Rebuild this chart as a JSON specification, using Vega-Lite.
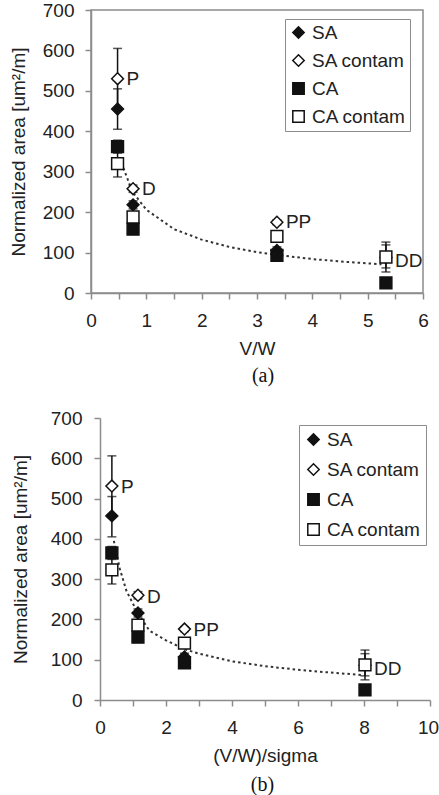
{
  "$schema": "https://vega.github.io/schema/vega-lite/v6.json",
  "background": "white",
  "padding": {"left": 8, "top": 0, "right": 0, "bottom": 5},
  "spacing": 22,
  "config": {
    "font": "Liberation Sans",
    "view": {"stroke": "#8c8c8c", "strokeWidth": 1.5},
    "axis": {"domainColor": "#8c8c8c", "domainWidth": 1.5, "tickColor": "#8c8c8c", "tickWidth": 1.5, "tickSize": 6, "grid": false,
      "labelFont": "Liberation Sans", "titleFont": "Liberation Sans", "labelFontSize": 19, "titleFontSize": 19,
      "titleFontWeight": "normal", "labelColor": "#222", "titleColor": "#222"},
    "legend": {"labelFont": "Liberation Sans", "labelFontSize": 19, "labelColor": "#222"}
  },
  "datasets": {
    "pts_a": [
      {"x": 0.48, "y": 455, "s": "SA", "lo": 405, "hi": 505},
      {"x": 0.48, "y": 530, "s": "SA contam", "lo": 455, "hi": 605},
      {"x": 0.48, "y": 362, "s": "CA", "lo": 346, "hi": 378},
      {"x": 0.48, "y": 320, "s": "CA contam", "lo": 287, "hi": 352},
      {"x": 0.76, "y": 218, "s": "SA", "lo": 208, "hi": 228},
      {"x": 0.76, "y": 258, "s": "SA contam", "lo": 249, "hi": 267},
      {"x": 0.76, "y": 158, "s": "CA", "lo": 145, "hi": 170},
      {"x": 0.76, "y": 188, "s": "CA contam", "lo": 178, "hi": 198},
      {"x": 3.36, "y": 105, "s": "SA", "lo": 96, "hi": 114},
      {"x": 3.36, "y": 175, "s": "SA contam", "lo": 169, "hi": 181},
      {"x": 3.36, "y": 93, "s": "CA", "lo": 87, "hi": 99},
      {"x": 3.36, "y": 140, "s": "CA contam", "lo": 134, "hi": 146},
      {"x": 5.33, "y": 88, "s": "SA contam", "lo": 52, "hi": 126},
      {"x": 5.33, "y": 25, "s": "CA", "lo": null, "hi": null},
      {"x": 5.33, "y": 89, "s": "CA contam", "lo": 62, "hi": 119}
    ],
    "pts_b": [
      {"x": 0.36, "y": 457, "s": "SA", "lo": 405, "hi": 505},
      {"x": 0.36, "y": 531, "s": "SA contam", "lo": 456, "hi": 606},
      {"x": 0.36, "y": 365, "s": "CA", "lo": 349, "hi": 381},
      {"x": 0.36, "y": 323, "s": "CA contam", "lo": 288, "hi": 355},
      {"x": 1.15, "y": 216, "s": "SA", "lo": 206, "hi": 226},
      {"x": 1.15, "y": 260, "s": "SA contam", "lo": 251, "hi": 269},
      {"x": 1.15, "y": 156, "s": "CA", "lo": 143, "hi": 168},
      {"x": 1.15, "y": 186, "s": "CA contam", "lo": 176, "hi": 196},
      {"x": 2.56, "y": 107, "s": "SA", "lo": 98, "hi": 116},
      {"x": 2.56, "y": 176, "s": "SA contam", "lo": 170, "hi": 182},
      {"x": 2.56, "y": 92, "s": "CA", "lo": 86, "hi": 98},
      {"x": 2.56, "y": 141, "s": "CA contam", "lo": 135, "hi": 147},
      {"x": 8.03, "y": 86, "s": "SA contam", "lo": 50, "hi": 124},
      {"x": 8.03, "y": 25, "s": "CA", "lo": null, "hi": null},
      {"x": 8.03, "y": 87, "s": "CA contam", "lo": 60, "hi": 115}
    ],
    "fit_a": [
      {"x": 0.55, "y": 322}, {"x": 0.75, "y": 250}, {"x": 1.0, "y": 206}, {"x": 1.5, "y": 158},
      {"x": 2.0, "y": 132}, {"x": 2.5, "y": 114}, {"x": 3.0, "y": 101}, {"x": 3.5, "y": 92},
      {"x": 4.0, "y": 84}, {"x": 4.5, "y": 78}, {"x": 5.25, "y": 71}
    ],
    "fit_b": [
      {"x": 0.42, "y": 395}, {"x": 0.6, "y": 326}, {"x": 0.8, "y": 271}, {"x": 1.15, "y": 215},
      {"x": 1.5, "y": 172}, {"x": 2.0, "y": 148}, {"x": 2.57, "y": 126}, {"x": 3.0, "y": 115},
      {"x": 4.0, "y": 96}, {"x": 5.0, "y": 84}, {"x": 6.0, "y": 75}, {"x": 7.0, "y": 68}, {"x": 7.95, "y": 62}
    ],
    "lab_a": [
      {"x": 0.48, "y": 530, "t": "P"}, {"x": 0.76, "y": 258, "t": "D"},
      {"x": 3.36, "y": 175, "t": "PP"}, {"x": 5.33, "y": 78, "t": "DD"}
    ],
    "lab_b": [
      {"x": 0.36, "y": 529, "t": "P"}, {"x": 1.15, "y": 255, "t": "D"},
      {"x": 2.56, "y": 174, "t": "PP"}, {"x": 8.03, "y": 77, "t": "DD"}
    ]
  },
  "vconcat": [
    {
      "width": 332, "height": 283,
      "title": {"text": "(a)", "orient": "bottom", "font": "Liberation Serif", "fontSize": 20, "fontWeight": "normal", "color": "#111", "anchor": "middle", "frame": "group", "offset": 8, "dx": 6},
      "encoding": {
        "x": {"field": "x", "type": "quantitative", "scale": {"domain": [0, 6], "nice": false},
          "axis": {"title": "V/W", "values": [0, 0.5, 1, 1.5, 2, 2.5, 3, 3.5, 4, 4.5, 5, 5.5, 6], "labelExpr": "datum.value % 1 === 0 ? format(datum.value, 'd') : ''", "labelPadding": 12, "titlePadding": 9, "labelFlush": false}},
        "y": {"field": "y", "type": "quantitative", "scale": {"domain": [0, 700], "nice": false},
          "axis": {"title": "Normalized area [um²/m]", "values": [0, 100, 200, 300, 400, 500, 600, 700], "labelPadding": 11, "titlePadding": 14, "labelFlush": false}}
      },
      "layer": [
        {"data": {"name": "fit_a"}, "mark": {"type": "line", "strokeDash": [2.5, 3], "strokeWidth": 2, "color": "#333"}},
        {"data": {"name": "pts_a"}, "transform": [{"filter": "isValid(datum.lo)"}],
          "mark": {"type": "rule", "color": "#111", "strokeWidth": 1.5},
          "encoding": {"y": {"field": "lo", "type": "quantitative"}, "y2": {"field": "hi"}}},
        {"data": {"name": "pts_a"}, "transform": [{"filter": "isValid(datum.lo)"}, {"fold": ["lo", "hi"], "as": ["k", "v"]}],
          "mark": {"type": "tick", "orient": "horizontal", "color": "#111", "thickness": 1.5, "size": 9},
          "encoding": {"y": {"field": "v", "type": "quantitative"}}},
        {"data": {"name": "pts_a"},
          "mark": {"type": "point", "filled": false, "stroke": "#111", "strokeWidth": 1.5, "opacity": 1},
          "encoding": {
            "shape": {"field": "s", "type": "nominal", "scale": {"domain": ["SA", "SA contam", "CA", "CA contam"], "range": ["diamond", "diamond", "square", "square"]},
              "legend": {"title": null, "orient": "none", "legendX": 194, "legendY": 9, "strokeColor": "#8c8c8c", "fillColor": "white", "padding": 4, "rowPadding": 8, "labelOffset": 4, "symbolStrokeWidth": 1.5, "symbolSize": 130}},
            "fill": {"field": "s", "type": "nominal", "scale": {"domain": ["SA", "SA contam", "CA", "CA contam"], "range": ["#111", "white", "#111", "white"]}, "legend": {"title": null}},
            "size": {"value": 140}
          }},
        {"data": {"name": "lab_a"}, "mark": {"type": "text", "align": "left", "baseline": "middle", "dx": 9, "fontSize": 19, "font": "Liberation Sans", "color": "#222"},
          "encoding": {"text": {"field": "t"}}}
      ]
    },
    {
      "width": 339, "height": 282,
      "view": {"stroke": null},
      "title": {"text": "(b)", "orient": "bottom", "font": "Liberation Serif", "fontSize": 20, "fontWeight": "normal", "color": "#111", "anchor": "middle", "frame": "group", "offset": 10, "dx": 2},
      "encoding": {
        "x": {"field": "x", "type": "quantitative", "scale": {"domain": [0, 10], "nice": false, "range": [9, 339]},
          "axis": {"title": "(V/W)/sigma", "values": [0, 1, 2, 3, 4, 5, 6, 7, 8, 9, 10], "labelExpr": "datum.value % 2 === 0 ? format(datum.value, 'd') : ''", "labelOffset": {"condition": {"test": "datum.value === 10", "value": -2}, "value": 0}, "labelPadding": 12, "titlePadding": 9, "labelFlush": false}},
        "y": {"field": "y", "type": "quantitative", "scale": {"domain": [0, 700], "nice": false},
          "axis": {"title": "Normalized area [um²/m]", "values": [0, 100, 200, 300, 400, 500, 600, 700], "offset": -9, "labelPadding": 12, "titlePadding": 20, "labelFlush": false}}
      },
      "layer": [
        {"data": {"values": [{}]}, "mark": {"type": "rect", "fill": null, "stroke": "#8c8c8c", "strokeWidth": 1.5},
          "encoding": {"x": {"datum": 0, "type": "quantitative"}, "x2": {"datum": 10}, "y": {"datum": 0, "type": "quantitative"}, "y2": {"datum": 700}}},
        {"data": {"name": "fit_b"}, "mark": {"type": "line", "strokeDash": [2.5, 3], "strokeWidth": 2, "color": "#333"}},
        {"data": {"name": "pts_b"}, "transform": [{"filter": "isValid(datum.lo)"}],
          "mark": {"type": "rule", "color": "#111", "strokeWidth": 1.5},
          "encoding": {"y": {"field": "lo", "type": "quantitative"}, "y2": {"field": "hi"}}},
        {"data": {"name": "pts_b"}, "transform": [{"filter": "isValid(datum.lo)"}, {"fold": ["lo", "hi"], "as": ["k", "v"]}],
          "mark": {"type": "tick", "orient": "horizontal", "color": "#111", "thickness": 1.5, "size": 9},
          "encoding": {"y": {"field": "v", "type": "quantitative"}}},
        {"data": {"name": "pts_b"},
          "mark": {"type": "point", "filled": false, "stroke": "#111", "strokeWidth": 1.5, "opacity": 1},
          "encoding": {
            "shape": {"field": "s", "type": "nominal", "scale": {"domain": ["SA", "SA contam", "CA", "CA contam"], "range": ["diamond", "diamond", "square", "square"]},
              "legend": {"title": null, "orient": "none", "legendX": 208, "legendY": 7, "strokeColor": "#8c8c8c", "fillColor": "white", "padding": 5, "rowPadding": 10, "labelOffset": 4, "symbolStrokeWidth": 1.5, "symbolSize": 130}},
            "fill": {"field": "s", "type": "nominal", "scale": {"domain": ["SA", "SA contam", "CA", "CA contam"], "range": ["#111", "white", "#111", "white"]}, "legend": {"title": null}},
            "size": {"value": 140}
          }},
        {"data": {"name": "lab_b"}, "mark": {"type": "text", "align": "left", "baseline": "middle", "dx": 9, "fontSize": 19, "font": "Liberation Sans", "color": "#222"},
          "encoding": {"text": {"field": "t"}}}
      ]
    }
  ],
  "resolve": {"scale": {"shape": "independent", "fill": "independent"}, "legend": {"shape": "independent", "fill": "independent"}}
}
